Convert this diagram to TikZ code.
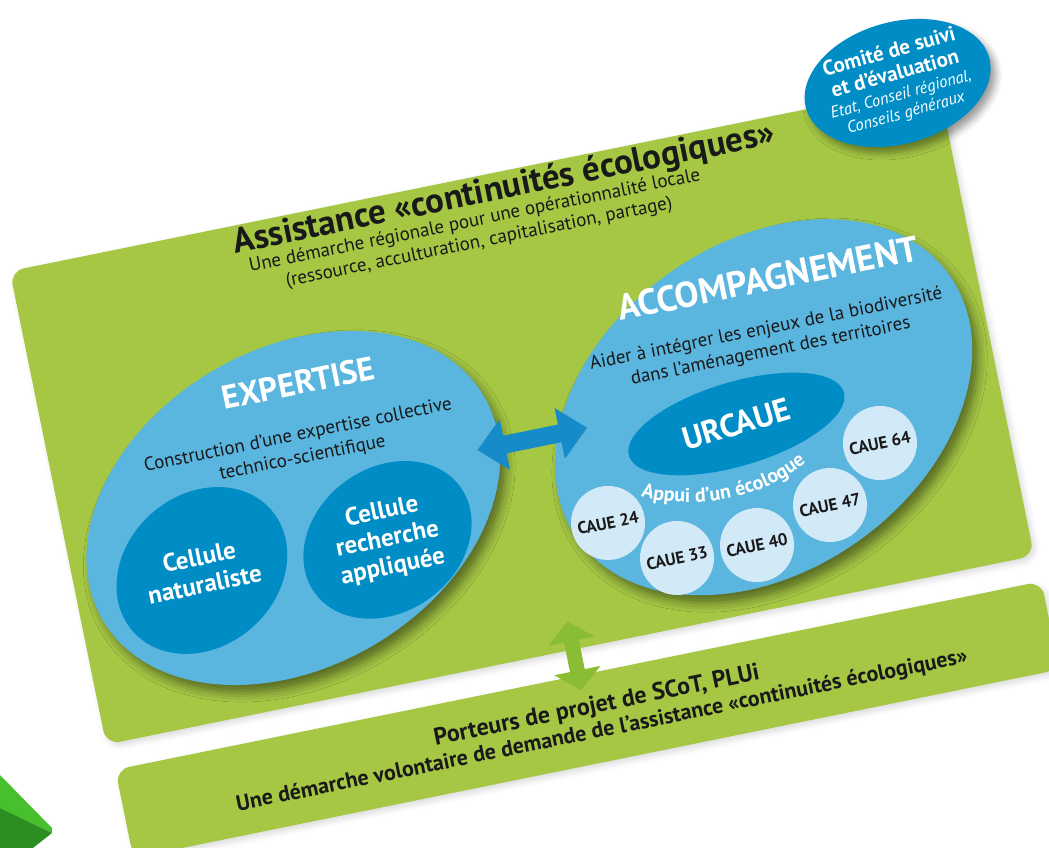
\documentclass[tikz,border=0pt]{standalone}
\usepackage{fontspec}
\setmainfont{PT Sans}
\usetikzlibrary{shapes.geometric,shadows.blur,decorations.text,arrows.meta}
\definecolor{lime}{RGB}{165,199,68}
\definecolor{skyb}{RGB}{90,181,223}
\definecolor{deepb}{RGB}{0,140,196}
\definecolor{paleb}{RGB}{210,233,247}
\definecolor{arrowg}{RGB}{138,189,52}
\definecolor{arrowb}{RGB}{22,139,200}
\definecolor{ink}{RGB}{25,25,25}
\definecolor{cubelight}{RGB}{72,192,46}
\definecolor{cubedark}{RGB}{42,142,32}
\newcommand{\fsz}[2]{\fontsize{#1}{#2}\selectfont}
\begin{document}
\begin{tikzpicture}[x=1pt,y=1pt,
  panel/.style={fill=lime, rounded corners=14pt, inner sep=0pt,
    blur shadow={shadow xshift=3pt, shadow yshift=-3pt, shadow opacity=15, shadow blur radius=6pt}},
  bigell/.style={ellipse, fill=skyb, inner sep=0pt,
    blur shadow={shadow xshift=6pt, shadow yshift=-8pt, shadow opacity=45, shadow blur radius=9pt}},
  cell/.style={ellipse, fill=deepb, inner sep=0pt},
  celltxt/.style={text=white, align=center, font=\bfseries\fsz{25}{28}},
  caue/.style={circle, fill=paleb, minimum size=74pt, inner sep=0pt, text=ink, font=\bfseries\fsz{17}{19}},
  whitehead/.style={text=white, font=\bfseries\fsz{33}{35}},
  plaintxt/.style={text=ink, align=center, font=\fsz{19}{23}},
  boldtxt/.style={text=ink, align=center},
  ctitle/.style={text=white, inner sep=0pt, font=\bfseries\fsz{21}{23}},
  csub/.style={text=white, inner sep=0pt, font=\itshape\fsz{16.5}{18}},
]
\useasboundingbox (0,0) rectangle (1049,848);
% partial green object in the corner
\fill[cubelight] (0,73) -- (52,20) -- (52,15) -- (0,40) -- cycle;
\fill[cubedark] (0,40) -- (52,15) -- (33,0) -- (0,0) -- cycle;

\begin{scope}[shift={(522,434.5)}, rotate=11.5, transform shape]
  \node[panel, minimum width=947pt, minimum height=483pt] (main) at (0,0) {};
  \node[panel, minimum width=945pt, minimum height=90pt] (band) at (3,-313) {};

  \node[text=ink, font=\bfseries\fsz{35}{37}, anchor=base] (title) at (27,214)
    {Assistance «continuités écologiques»};
  \node[plaintxt, anchor=base, font=\fsz{19}{22}] (sub) at (-8,171)
    {Une démarche régionale pour une opérationnalité locale\\(ressource, acculturation, capitalisation, partage)};

  \node[bigell, minimum width=442pt, minimum height=318pt, rotate=19] (expe) at (-243,-47) {};
  \node[bigell, minimum width=456pt, minimum height=328pt, rotate=24] (acco) at (238,-42) {};

  % expertise content
  \node[whitehead, anchor=base] (exptitle) at (-213,63) {EXPERTISE};
  \node[plaintxt, anchor=base] (exptxt) at (-224,-5)
    {Construction d’une expertise collective\\technico-scientifique};
  \node[cell, minimum width=184pt, minimum height=152pt, rotate=30] (natu) at (-345,-90) {};
  \node[celltxt] (natutxt) at (natu.center) {Cellule\\naturaliste};
  \node[cell, minimum width=180pt, minimum height=144pt, rotate=25] (rech) at (-157,-97) {};
  \node[celltxt] (rechtxt) at (rech.center) {Cellule\\recherche\\appliquée};

  % accompagnement content
  \node[whitehead, anchor=base, font=\bfseries\fsz{36}{38}] (acctitle) at (268,71) {ACCOMPAGNEMENT};
  \node[plaintxt, anchor=base] (acctxt) at (256,6)
    {Aider à intégrer les enjeux de la biodiversité\\dans l’aménagement des territoires};
  \node[ellipse, fill=deepb, inner sep=0pt, minimum width=224pt, minimum height=84pt, rotate=5,
        text=white, font=\bfseries\fsz{32}{34}] (urcaue) at (208,-53) {URCAUE};
  \path[decorate, decoration={text along path, text align=center, text color=white,
        text={|\bfseries\fsz{20}{22}|Appui d’un écologue}}]
    (86,-97) .. controls (146,-135) and (234,-132) .. (282,-96);
  \node[caue] (c24) at (62.5,-124.4) {CAUE 24};
  \node[caue] (c33) at (123.1,-172.5) {CAUE 33};
  \node[caue] (c40) at (204.1,-175.8) {CAUE 40};
  \node[caue] (c47) at (283.6,-151.1) {CAUE 47};
  \node[caue] (c64) at (344.9,-100.3) {CAUE 64};

  % double arrow between the two ellipses
  \coordinate (al) at (-51,-27);
  \coordinate (ar) at (61,-27);
  \draw[arrowb, line width=18pt, {Triangle[width=50pt,length=28pt]}-{Triangle[width=50pt,length=28pt]}] (al) -- (ar);

  % green arrow to the lower band
  \coordinate (gt) at (3,-213);
  \coordinate (gb) at (3,-283);
  \draw[arrowg, line width=15pt, {Triangle[width=46pt,length=20pt]}-{Triangle[width=46pt,length=20pt]}] (gt) -- (gb);

  \node[boldtxt, anchor=base, font=\bfseries\fsz{24}{26}] (porteurs) at (15,-308) {Porteurs de projet de SCoT, PLUi};
  \node[boldtxt, anchor=base, font=\bfseries\fsz{22}{24}] (demarche) at (15,-333)
    {Une démarche volontaire de demande de l’assistance «continuités écologiques»};

  % comite
  \node[ellipse, fill=deepb, inner sep=0pt, minimum width=190pt, minimum height=122pt, rotate=4,
        blur shadow={shadow xshift=5pt, shadow yshift=-6pt, shadow opacity=40, shadow blur radius=7pt}] (comite) at (434,249) {};
  \begin{scope}[shift={(comite.center)}, rotate=4]
    \node[ctitle, anchor=base] (cm1) at (0,26) {Comité de suivi};
    \node[ctitle, anchor=base] (cm2) at (0,3) {et d’évaluation};
    \node[csub, anchor=base] (cm3) at (0,-17) {Etat, Conseil régional,};
    \node[csub, anchor=base] (cm4) at (0,-36) {Conseils généraux};
  \end{scope}
\end{scope}
\end{tikzpicture}
\end{document}
